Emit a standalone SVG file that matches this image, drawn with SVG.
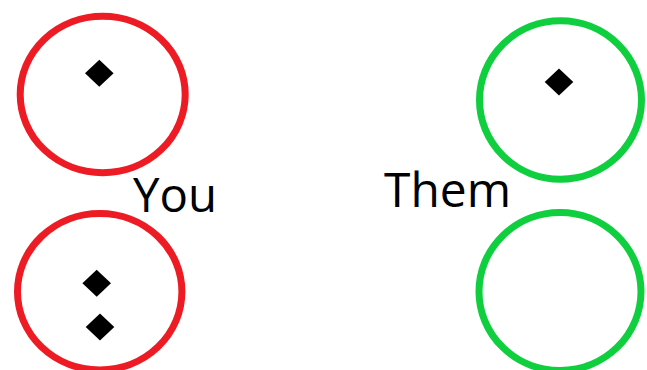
<svg xmlns="http://www.w3.org/2000/svg" width="647" height="370" viewBox="0 0 647 370">
<style>
.red{fill:none;stroke:#ED1C24;stroke-width:7}
.green{fill:none;stroke:#0FCF3F;stroke-width:7}
.dia{fill:#000}
.lbl{font-family:"Open Sans","Noto Sans",sans-serif;font-size:47px;fill:#000}
</style>
<defs>
<polygon id="d" points="0,-13.5 14.3,0 0,13.5 -14.3,0"/>
</defs>
<rect width="647" height="370" fill="#fff"/>
<g id="you-top">
<ellipse class="red" cx="102.7" cy="94.5" rx="82.5" ry="78.2"/>
<use href="#d" class="dia" x="99.3" y="73.3"/>
</g>
<g id="you-bottom">
<ellipse class="red" cx="99.7" cy="291.7" rx="82.2" ry="78.2"/>
<use href="#d" class="dia" x="96.7" y="283.3"/>
<use href="#d" class="dia" x="100" y="327"/>
</g>
<g id="them-top">
<ellipse class="green" cx="560.5" cy="100" rx="81" ry="79.2"/>
<use href="#d" class="dia" x="559" y="82"/>
</g>
<g id="them-bottom">
<ellipse class="green" cx="560" cy="291.5" rx="81" ry="79"/>
</g>
<g id="labels">
<text class="lbl" x="133" y="211.5" textLength="84" lengthAdjust="spacingAndGlyphs">You</text>
<text class="lbl" x="384" y="207" textLength="127" lengthAdjust="spacingAndGlyphs">Them</text>
</g>
<g id="connectors"/>
</svg>
